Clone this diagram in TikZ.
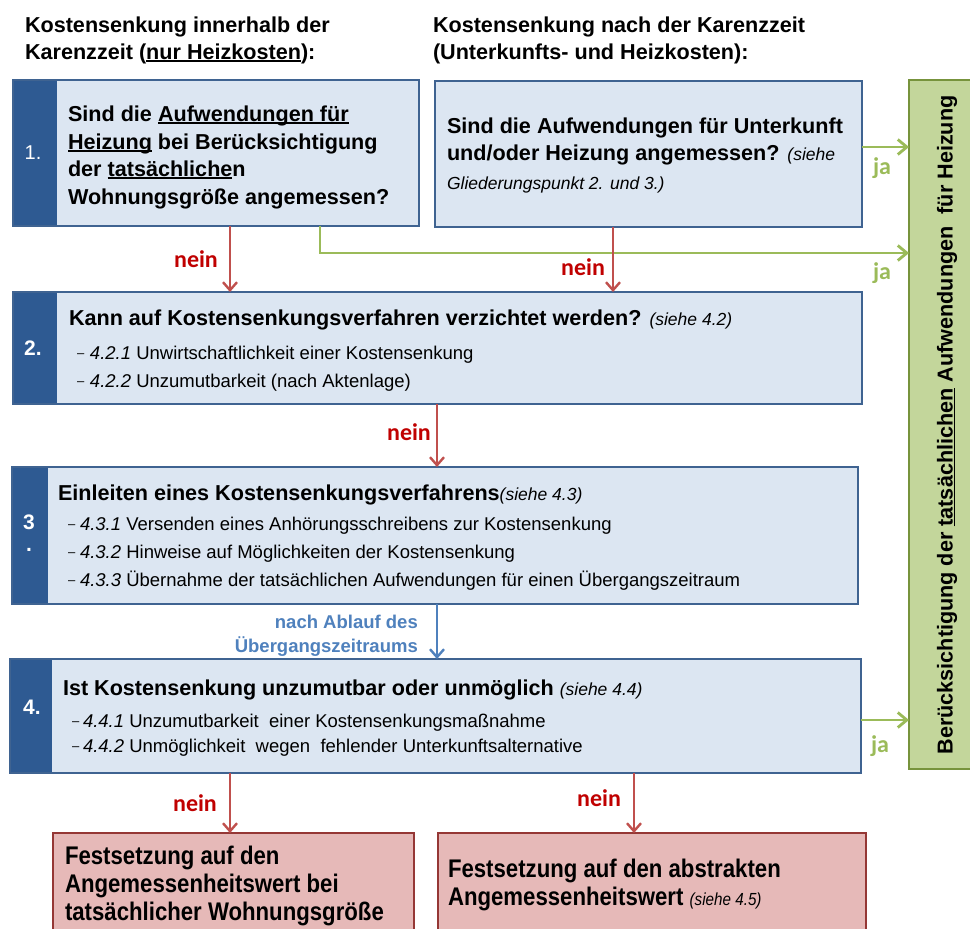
\documentclass[tikz,border=0pt]{standalone}
\usepackage{fontspec}
\setmainfont{Liberation Sans}
\newfontfamily\calfont{Carlito}
\newfontfamily\narrowfont[FakeStretch=0.87]{Liberation Sans}
\usetikzlibrary{arrows.meta}
\definecolor{ltblue}{HTML}{DCE6F2}
\definecolor{bdblue}{HTML}{3F6391}
\definecolor{stripeblue}{HTML}{2E5A92}
\definecolor{grfill}{HTML}{C3D69B}
\definecolor{grline}{HTML}{77933C}
\definecolor{grarrow}{HTML}{9BBB59}
\definecolor{redarrow}{HTML}{C0504D}
\definecolor{redtext}{HTML}{C00000}
\definecolor{rdfill}{HTML}{E6B9B8}
\definecolor{rdline}{HTML}{953735}
\definecolor{bluearrow}{HTML}{4F81BD}
\newcommand\ulx[1]{\setbox0=\hbox{#1}\rlap{\rule[-2.6pt]{\wd0}{1.3pt}}\box0\relax}
\newcommand\siehe[1]{{\fontsize{17.5}{21}\selectfont\mdseries\itshape #1}}
\newcommand\dsh[1]{\makebox[#1][l]{\raisebox{1.8pt}{\fontsize{13}{15}\selectfont –}}}
\tikzset{
  box/.style={draw=bdblue, fill=ltblue, line width=2.2pt, anchor=north west, inner sep=0pt, outer sep=0pt},
  sbox/.style={box, path picture={\fill[stripeblue] (path picture bounding box.north west) rectangle ([xshift=#1]path picture bounding box.south west);}},
  gbox/.style={draw=grline, fill=grfill, line width=2.2pt, anchor=north west, inner sep=0pt, outer sep=0pt},
  rbox/.style={draw=rdline, fill=rdfill, line width=2.2pt, anchor=north west, inner sep=0pt, outer sep=0pt},
  txt/.style={anchor=base west, inner sep=0pt, outer sep=0pt, text=black},
  bt/.style={txt, font=\fontsize{21.6}{26}\selectfont\bfseries},
  itemtxt/.style={txt, font=\fontsize{18.5}{22}\selectfont},
  nt/.style={txt, font=\narrowfont\fontsize{25.5}{30}\selectfont\bfseries},
  num/.style={text=white, font=\fontsize{21}{25}\selectfont\bfseries, inner sep=0pt},
  nein/.style={text=redtext, font=\calfont\fontsize{24}{28}\selectfont\bfseries, inner sep=0pt},
  ja/.style={text=grarrow, font=\calfont\fontsize{24}{28}\selectfont\bfseries, inner sep=0pt},
  redarr/.style={draw=redarrow, line width=2.4pt, -{Straight Barb[length=8pt,width=14pt]}},
  grarr/.style={draw=grarrow, line width=2.8pt, -{Straight Barb[length=9pt,width=15pt]}},
  bluarr/.style={draw=bluearrow, line width=2.4pt, -{Straight Barb[length=8pt,width=14pt]}},
  bluelab/.style={anchor=base east, inner sep=0pt, text=bluearrow, font=\fontsize{18.5}{22}\selectfont\bfseries}
}
\begin{document}
\begin{tikzpicture}[x=1pt, y=-1pt]
\clip (0,0) rectangle (970,929);
\fill[white] (0,0) rectangle (970,929);

% column / row helpers
\coordinate (cA) at (230,0);
\coordinate (cB) at (613,0);
\coordinate (cC) at (437,0);
\coordinate (cD) at (320,0);
\coordinate (cE) at (634,0);
\coordinate (rA) at (0,147);
\coordinate (rB) at (0,253);
\coordinate (rC) at (0,720);

% titles
\node[bt] (t1a) at (25,32) {Kostensenkung innerhalb der};
\node[bt] (t1b) at (25,59) {Karenzzeit (\ulx{nur Heizkosten}):};
\node[bt] (t2a) at (433,32) {Kostensenkung nach der Karenzzeit};
\node[bt] (t2b) at (433,59) {(Unterkunfts- und Heizkosten):};

% box 1
\node[sbox=44pt, minimum width=406pt, minimum height=146pt] (b1) at (13,80) {};
\node[num, font=\fontsize{20}{24}\selectfont] (n1) at (33,153) {1.};
\node[bt] (b1l1) at (68,121) {Sind die \ulx{Aufwendungen für}};
\node[bt] (b1l2) at (68,149) {\ulx{Heizung} bei Berücksichtigung};
\node[bt] (b1l3) at (68,176) {der \ulx{tatsächliche}n};
\node[bt] (b1l4) at (68,204) {Wohnungsgröße angemessen?};

% box right top
\node[box, minimum width=427pt, minimum height=146pt] (bR) at (435,81) {};
\node[bt] (bRl1) at (447,133) {Sind die Aufwendungen für Unterkunft};
\node[bt] (bRl2) at (447,160) {und/oder Heizung angemessen? \siehe{(siehe}};
\node[txt, font=\fontsize{17.5}{21}\selectfont\itshape] (bRl3) at (447,189) {Gliederungspunkt 2. und 3.)};

% green box
\node[gbox, minimum width=80pt, minimum height=689pt] (gb) at (909,80) {};
\node[rotate=90, inner sep=0pt, font=\fontsize{21.6}{26}\selectfont\bfseries] (gt) at (947,425)
  {Berücksichtigung der \ulx{tatsächlichen} Aufwendungen\ \ für Heizung};

% box 2
\node[sbox=44pt, minimum width=849pt, minimum height=112pt] (b2) at (13,292) {};
\node[num] (n2) at (33,348) {2.};
\node[bt] (b2l1) at (69,325) {Kann auf Kostensenkungsverfahren verzichtet werden? \siehe{(siehe 4.2)}};
\node[itemtxt] (b2l2) at (77,359) {\dsh{13pt}\textit{4.2.1} Unwirtschaftlichkeit einer Kostensenkung};
\node[itemtxt] (b2l3) at (77,387) {\dsh{13pt}\textit{4.2.2} Unzumutbarkeit (nach Aktenlage)};

% box 3
\node[sbox=36pt, minimum width=846pt, minimum height=137pt] (b3) at (12,467) {};
\node[num] (n3a) at (29,522) {3};
\node[num] (n3b) at (29,550) {.};
\node[bt] (b3l1) at (58,500) {Einleiten eines Kostensenkungsverfahrens\siehe{(siehe 4.3)}};
\node[itemtxt] (b3l2) at (68,530) {\dsh{12pt}\textit{4.3.1} Versenden eines Anhörungsschreibens zur Kostensenkung};
\node[itemtxt] (b3l3) at (68,558) {\dsh{12pt}\textit{4.3.2} Hinweise auf Möglichkeiten der Kostensenkung};
\node[itemtxt] (b3l4) at (68,586) {\dsh{12pt}\textit{4.3.3} Übernahme der tatsächlichen Aufwendungen für einen Übergangszeitraum};

% blue label
\node[bluelab] (bl1) at (418,628) {nach Ablauf des};
\node[bluelab] (bl2) at (418,652) {Übergangszeitraums};

% box 4
\node[sbox=42pt, minimum width=851pt, minimum height=114pt] (b4) at (10,659) {};
\node[num] (n4) at (32,707) {4.};
\node[bt] (b4l1) at (63,695) {Ist Kostensenkung unzumutbar oder unmöglich \siehe{(siehe 4.4)}};
\node[itemtxt] (b4l2) at (72,727) {\dsh{11pt}\textit{4.4.1} Unzumutbarkeit\ \ einer Kostensenkungsmaßnahme};
\node[itemtxt] (b4l3) at (72,752) {\dsh{11pt}\textit{4.4.2} Unmöglichkeit\ \ wegen\ \ fehlender Unterkunftsalternative};

% bottom boxes
\node[rbox, minimum width=361pt, minimum height=120pt] (r1) at (53,833) {};
\node[rbox, minimum width=428pt, minimum height=120pt] (r2) at (438,833) {};
\node[nt] (r1l1) at (65,864) {Festsetzung auf den};
\node[nt] (r1l2) at (65,892) {Angemessenheitswert bei};
\node[nt] (r1l3) at (65,920) {tatsächlicher Wohnungsgröße};
\node[nt] (r2l1) at (448,877) {Festsetzung auf den abstrakten};
\node[nt] (r2l2) at (448,905) {Angemessenheitswert \siehe{(siehe 4.5)}};

% connectors
\draw[grarr] (b1.south -| cD) |- (gb.west |- rB);
\draw[grarr] (bR.east |- rA) -- (gb.west |- rA);
\draw[grarr] (b4.east |- rC) -- (gb.west |- rC);
\draw[redarr] (b1.south -| cA) -- (b2.north -| cA);
\draw[redarr] (bR.south -| cB) -- (b2.north -| cB);
\draw[redarr] (b2.south -| cC) -- (b3.north -| cC);
\draw[bluarr] (b3.south -| cC) -- (b4.north -| cC);
\draw[redarr] (b4.south -| cA) -- (r1.north -| cA);
\draw[redarr] (b4.south -| cE) -- (r2.north -| cE);

% labels
\node[nein] (lab1) at (196,259) {nein};
\node[nein] (lab2) at (583,267) {nein};
\node[nein] (lab3) at (409,432) {nein};
\node[nein] (lab4) at (195,803) {nein};
\node[nein] (lab5) at (599,798) {nein};
\node[ja] (ja1) at (882,168) {ja};
\node[ja] (ja2) at (882,273) {ja};
\node[ja] (ja3) at (880,746) {ja};
\end{tikzpicture}
\end{document}
